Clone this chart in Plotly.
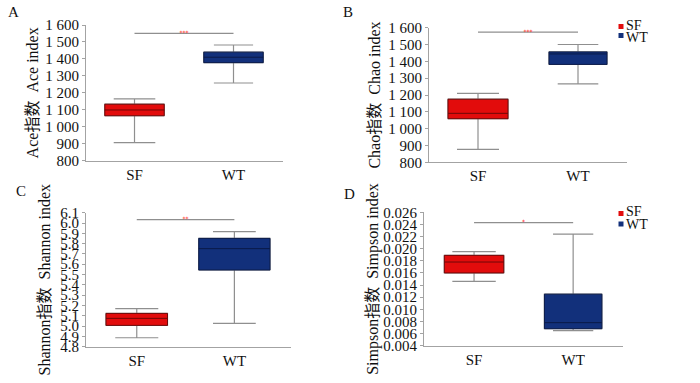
import plotly.graph_objects as go

# ---------------- data ----------------
categories = ["SF", "WT"]

ace_lower = [906, 1258]
ace_q1 = [1065, 1378]
ace_median = [1099, 1410]
ace_q3 = [1133, 1440]
ace_upper = [1164, 1482]
ace_sig = 1551
ace_sig_label = "***"

chao_lower = [877, 1266]
chao_q1 = [1059, 1382]
chao_median = [1091, 1444]
chao_q3 = [1175, 1456]
chao_upper = [1210, 1500]
chao_sig = 1574
chao_sig_label = "***"

shannon_lower = [4.887, 5.026]
shannon_q1 = [5.007, 5.544]
shannon_median = [5.075, 5.751]
shannon_q3 = [5.123, 5.851]
shannon_upper = [5.169, 5.916]
shannon_sig = 6.032
shannon_sig_label = "**"

simpson_lower = [0.0146, 0.0065]
simpson_q1 = [0.0160, 0.0068]
simpson_median = [0.0178, 0.0078]
simpson_q3 = [0.0189, 0.0125]
simpson_upper = [0.0195, 0.0224]
simpson_sig = 0.0243
simpson_sig_label = "*"

ace_ticks = [800, 900, 1000, 1100, 1200, 1300, 1400, 1500, 1600]
ace_ticktext = ["800", "900", "1 000", "1 100", "1 200", "1 300", "1 400", "1 500", "1 600"]
chao_ticks = ace_ticks
chao_ticktext = ace_ticktext
shannon_ticks = [4.8, 4.9, 5.0, 5.1, 5.2, 5.3, 5.4, 5.5, 5.6, 5.7, 5.8, 5.9, 6.0, 6.1]
shannon_ticktext = ["4.8", "4.9", "5.0", "5.1", "5.2", "5.3", "5.4", "5.5", "5.6", "5.7", "5.8", "5.9", "6.0", "6.1"]
simpson_ticks = [0.004, 0.006, 0.008, 0.010, 0.012, 0.014, 0.016, 0.018, 0.020, 0.022, 0.024, 0.026]
simpson_ticktext = ["0.004", "0.006", "0.008", "0.010", "0.012", "0.014", "0.016", "0.018", "0.020", "0.022", "0.024", "0.026"]

titles = ["Ace指数\u00a0\u00a0Ace index", "Chao指数\u00a0\u00a0Chao index",
          "Shannon指数\u00a0\u00a0Shannon index", "Simpson指数\u00a0\u00a0Simpson index"]
letters = ["A", "B", "C", "D"]

# ---------------- styling ----------------
W, H = 700, 383
FONT = "Liberation Serif, Times New Roman, Noto Sans CJK SC, serif"
fills = ["#e20c0c", "#12307b"]
edges = ["#6e0808", "#0a1a48"]
WHISK = "#8f8f8f"
AXIS = "#a3a3a3"

panels = [
    dict(lower=ace_lower, q1=ace_q1, med=ace_median, q3=ace_q3, upper=ace_upper,
         sig=ace_sig, lab=ace_sig_label, ticks=ace_ticks, ticktext=ace_ticktext,
         yr=[800, 1600], px=(86, 283), py=(25, 160.7), xr=[-0.49, 1.5],
         widths=[0.6, 0.6], ww=[0.7, 0.66], standoff=2),
    dict(lower=chao_lower, q1=chao_q1, med=chao_median, q3=chao_q3, upper=chao_upper,
         sig=chao_sig, lab=chao_sig_label, ticks=chao_ticks, ticktext=chao_ticktext,
         yr=[800, 1600], px=(429, 627), py=(27.7, 162.3), xr=[-0.49, 1.49],
         widths=[0.6, 0.58], ww=[0.7, 0.7], standoff=3),
    dict(lower=shannon_lower, q1=shannon_q1, med=shannon_median, q3=shannon_q3, upper=shannon_upper,
         sig=shannon_sig, lab=shannon_sig_label, ticks=shannon_ticks, ticktext=shannon_ticktext,
         yr=[4.8, 6.1], px=(86, 291), py=(212.7, 346.7), xr=[-0.52, 1.58],
         widths=[0.63, 0.73], ww=[0.7, 0.6], standoff=5),
    dict(lower=simpson_lower, q1=simpson_q1, med=simpson_median, q3=simpson_q3, upper=simpson_upper,
         sig=simpson_sig, lab=simpson_sig_label, ticks=simpson_ticks, ticktext=simpson_ticktext,
         yr=[0.004, 0.026], px=(424, 622.7), py=(212.3, 345.7), xr=[-0.505, 1.5],
         widths=[0.6, 0.58], ww=[0.73, 0.7], standoff=0),
]

fig = go.Figure()
layout = dict(width=W, height=H, margin=dict(l=0, r=0, t=0, b=0),
              paper_bgcolor="white", plot_bgcolor="white", showlegend=False,
              font=dict(family=FONT, size=15, color="#111"), boxmode="overlay")

for i, p in enumerate(panels):
    n = "" if i == 0 else str(i + 1)
    xa, ya = "x" + n, "y" + n
    for j, c in enumerate(categories):
        # whiskers (gray)
        fig.add_trace(go.Box(
            x=[j], lowerfence=[p["lower"][j]], q1=[p["q1"][j]], median=[p["med"][j]],
            q3=[p["q3"][j]], upperfence=[p["upper"][j]], name=c,
            width=p["widths"][j], whiskerwidth=p["ww"][j],
            line=dict(color=WHISK, width=1.2), fillcolor="rgba(0,0,0,0)",
            xaxis=xa, yaxis=ya, hoverinfo="skip", boxpoints=False))
        # coloured box
        fig.add_trace(go.Box(
            x=[j], lowerfence=[p["q1"][j]], q1=[p["q1"][j]], median=[p["med"][j]],
            q3=[p["q3"][j]], upperfence=[p["q3"][j]], name=c,
            width=p["widths"][j], whiskerwidth=0,
            line=dict(color=edges[j], width=1), fillcolor=fills[j],
            xaxis=xa, yaxis=ya, boxpoints=False))
    # significance bracket
    fig.add_trace(go.Scatter(x=[0, 1], y=[p["sig"], p["sig"]], mode="lines",
                             line=dict(color=WHISK, width=1.2), xaxis=xa, yaxis=ya,
                             hoverinfo="skip"))
    fig.add_trace(go.Scatter(x=[0.5], y=[p["sig"]], mode="text", text=[p["lab"]],
                             textfont=dict(color="#ff0000", size=6, family="DejaVu Sans"),
                             textposition="middle center", xaxis=xa, yaxis=ya,
                             hoverinfo="skip"))

    x0, x1 = p["px"]
    ytop, ybot = p["py"]
    layout["xaxis" + n] = dict(
        domain=[x0 / W, x1 / W], range=p["xr"], anchor=ya,
        tickvals=[0, 1], ticktext=categories, ticks="", showgrid=False, zeroline=False,
        showline=True, linecolor=AXIS, linewidth=1, tickfont=dict(size=15, color="#111"),
        fixedrange=True)
    layout["yaxis" + n] = dict(
        domain=[1 - ybot / H, 1 - ytop / H], range=p["yr"], anchor=xa,
        tickvals=p["ticks"], ticktext=p["ticktext"], ticks="outside", ticklen=3,
        tickcolor=AXIS, showgrid=False, zeroline=False, showline=True, linecolor=AXIS,
        linewidth=1, tickfont=dict(size=15, color="#111"),
        title=dict(text=titles[i], font=dict(size=16, color="#111"), standoff=p["standoff"]),
        automargin=False, fixedrange=True)

# panel letters
letter_pos = [(13, 12), (348, 12), (21, 191), (349, 194)]
annotations = []
for L, (lx, ly) in zip(letters, letter_pos):
    annotations.append(dict(text=L, x=lx / W, y=1 - ly / H, xref="paper", yref="paper",
                            showarrow=False, font=dict(size=15, color="#111"),
                            xanchor="center", yanchor="middle"))

# legends (panels B and D)
shapes = []
legend_rows = [((24, 29), 25.5), ((33, 38), 37.5)], [((211, 216), 211.5), ((221.5, 226.5), 224)]
for rows in legend_rows:
    for j, ((sy0, sy1), ty) in enumerate(rows):
        shapes.append(dict(type="rect", xref="paper", yref="paper",
                           x0=618.5 / W, x1=623.5 / W, y0=1 - sy1 / H, y1=1 - sy0 / H,
                           fillcolor=fills[j], line=dict(width=0)))
        annotations.append(dict(text=categories[j], x=623.5 / W, y=1 - ty / H,
                                xref="paper", yref="paper", showarrow=False,
                                font=dict(size=14, color="#111"),
                                xanchor="left", yanchor="middle"))

layout["annotations"] = annotations
layout["shapes"] = shapes
fig.update_layout(**layout)
fig.write_html("out.html", config={"displayModeBar": False, "staticPlot": True},
               post_script="document.body.style.margin='0';document.body.style.overflow='hidden';")
